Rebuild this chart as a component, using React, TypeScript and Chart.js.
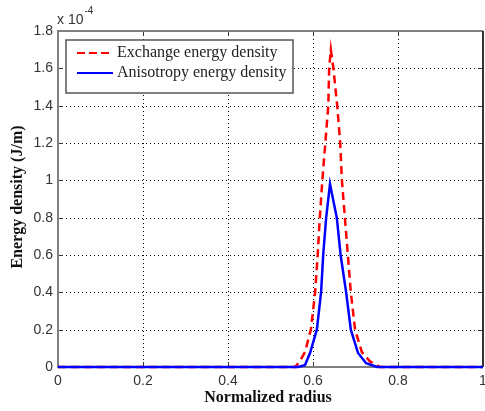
import React, { useEffect, useRef } from "react";
import { Chart, registerables } from "chart.js";

Chart.register(...registerables);

const exchangeX = [0, 0.55, 0.558, 0.569, 0.581, 0.595, 0.605, 0.611, 0.616, 0.622, 0.629, 0.636, 0.638, 0.642, 0.648, 0.657, 0.664, 0.668, 0.675, 0.682, 0.689, 0.699, 0.715, 0.734, 0.758, 1];
const exchangeY = [0, 0, 0, 0.03, 0.08, 0.2, 0.4, 0.6, 0.8, 1.0, 1.2, 1.4, 1.6, 1.7, 1.6, 1.4, 1.2, 1.0, 0.8, 0.6, 0.4, 0.2, 0.08, 0.03, 0, 0];
const anisoX = [0, 0.565, 0.581, 0.593, 0.609, 0.619, 0.624, 0.631, 0.640, 0.656, 0.665, 0.678, 0.689, 0.706, 0.725, 0.751, 1];
const anisoY = [0, 0, 0.01, 0.075, 0.2, 0.4, 0.6, 0.8, 0.98, 0.8, 0.6, 0.4, 0.2, 0.075, 0.02, 0, 0];

const seriesLabels = ["Exchange energy density", "Anisotropy energy density"];
const xTitle = "Normalized radius";
const yTitle = "Energy density (J/m)";
const exponentBase = "x 10";
const exponentPower = "-4";

const SERIF = "'Liberation Serif', 'Times New Roman', serif";
const SANS = "'Liberation Sans', Arial, sans-serif";

const framePlugin = {
  id: "framePlugin",
  beforeDatasetsDraw(chart: any) {
    const { ctx, chartArea } = chart;
    const { left, right, top, bottom } = chartArea;
    const xs = chart.scales.x;
    const ys = chart.scales.y;
    ctx.save();
    ctx.strokeStyle = "#000";
    ctx.lineWidth = 1;
    ctx.setLineDash([1, 3]);
    xs.ticks.forEach((t: any) => {
      const px = Math.round(xs.getPixelForValue(t.value)) + 0.5;
      if (px <= left + 2 || px >= right - 2) return;
      ctx.beginPath();
      ctx.moveTo(px, top);
      ctx.lineTo(px, bottom);
      ctx.stroke();
    });
    ys.ticks.forEach((t: any) => {
      const py = Math.round(ys.getPixelForValue(t.value)) + 0.5;
      if (py <= top + 2 || py >= bottom - 2) return;
      ctx.beginPath();
      ctx.moveTo(left, py);
      ctx.lineTo(right, py);
      ctx.stroke();
    });
    ctx.setLineDash([]);
    ctx.strokeStyle = "#333";
    ctx.lineWidth = 1;
    xs.ticks.forEach((t: any) => {
      const px = Math.round(xs.getPixelForValue(t.value)) + 0.5;
      ctx.beginPath();
      ctx.moveTo(px, bottom);
      ctx.lineTo(px, bottom - 5);
      ctx.moveTo(px, top);
      ctx.lineTo(px, top + 5);
      ctx.stroke();
    });
    ys.ticks.forEach((t: any) => {
      const py = Math.round(ys.getPixelForValue(t.value)) + 0.5;
      ctx.beginPath();
      ctx.moveTo(left, py);
      ctx.lineTo(left + 5, py);
      ctx.moveTo(right, py);
      ctx.lineTo(right - 5, py);
      ctx.stroke();
    });
    ctx.strokeStyle = "#808080";
    ctx.lineWidth = 2;
    ctx.beginPath();
    ctx.moveTo(right, top);
    ctx.lineTo(left, top);
    ctx.lineTo(left, bottom);
    ctx.lineTo(right, bottom);
    ctx.stroke();
    ctx.strokeStyle = "#333";
    ctx.beginPath();
    ctx.moveTo(right, top);
    ctx.lineTo(right, bottom);
    ctx.stroke();
    ctx.restore();
  },
  afterDraw(chart: any) {
    const { ctx } = chart;
    ctx.save();
    ctx.fillStyle = "#111";
    ctx.font = `bold 16px ${SERIF}`;
    ctx.textAlign = "center";
    ctx.textBaseline = "middle";
    ctx.fillText(xTitle, 268, 398);
    ctx.save();
    ctx.translate(18, 197);
    ctx.rotate(-Math.PI / 2);
    ctx.fillText(yTitle, 0, 0);
    ctx.restore();
    ctx.fillStyle = "#333";
    ctx.textAlign = "left";
    ctx.font = `14px ${SANS}`;
    ctx.fillText(exponentBase, 57, 20);
    const w = ctx.measureText(exponentBase).width;
    ctx.font = `10px ${SANS}`;
    ctx.fillText(exponentPower, 57 + w + 1, 11);
    const bx = 66, by = 40, bw = 227, bh = 53;
    ctx.fillStyle = "#fff";
    ctx.fillRect(bx, by, bw, bh);
    ctx.strokeStyle = "#555";
    ctx.lineWidth = 1.5;
    ctx.strokeRect(bx, by, bw, bh);
    const rows = [
      { y: 53, color: "#ff0000", dash: [8, 4], label: seriesLabels[0] },
      { y: 73, color: "#0000ff", dash: [], label: seriesLabels[1] },
    ];
    rows.forEach((r) => {
      ctx.strokeStyle = r.color;
      ctx.lineWidth = 2;
      ctx.setLineDash(r.dash);
      ctx.beginPath();
      ctx.moveTo(77, r.y);
      ctx.lineTo(113, r.y);
      ctx.stroke();
      ctx.setLineDash([]);
      ctx.fillStyle = "#222";
      ctx.font = `16px ${SERIF}`;
      ctx.textAlign = "left";
      ctx.textBaseline = "middle";
      ctx.fillText(r.label, 117, r.y);
    });
    ctx.restore();
  },
};

export default function App() {
  const ref = useRef<HTMLCanvasElement | null>(null);
  useEffect(() => {
    if (!ref.current) return;
    const chart = new Chart(ref.current, {
      type: "line",
      data: {
        datasets: [
          {
            label: seriesLabels[0],
            data: exchangeX.map((x, i) => ({ x, y: exchangeY[i] })),
            borderColor: "#ff0000",
            borderWidth: 2.5,
            borderDash: [8, 5],
            pointRadius: 0,
            tension: 0,
            fill: false,
            order: 1,
            clip: 6,
          },
          {
            label: seriesLabels[1],
            data: anisoX.map((x, i) => ({ x, y: anisoY[i] })),
            borderColor: "#0000ff",
            borderWidth: 2.5,
            pointRadius: 0,
            tension: 0,
            fill: false,
            order: 0,
            clip: 6,
          },
        ],
      },
      options: {
        responsive: false,
        animation: false,
        devicePixelRatio: 1,
        layout: { padding: { top: 31, right: 2, left: 0, bottom: 0 } },
        plugins: { legend: { display: false }, tooltip: { enabled: false } },
        scales: {
          x: {
            type: "linear",
            min: 0,
            max: 1,
            grid: { display: false, drawTicks: false },
            border: { display: false },
            ticks: {
              stepSize: 0.2,
              padding: 6,
              color: "#333",
              font: { family: SANS, size: 14 },
              maxRotation: 0,
              callback: (v: any) => String(Math.round(Number(v) * 10) / 10),
            },
            afterFit: (s: any) => {
              s.height = 44;
              s.paddingLeft = 0;
              s.paddingRight = 0;
            },
          },
          y: {
            type: "linear",
            min: 0,
            max: 1.8,
            grid: { display: false, drawTicks: false },
            border: { display: false },
            ticks: {
              stepSize: 0.2,
              padding: 5,
              color: "#333",
              font: { family: SANS, size: 14 },
              callback: (v: any) => String(Math.round(Number(v) * 10) / 10),
            },
            afterFit: (s: any) => {
              s.width = 58;
              s.paddingTop = 0;
              s.paddingBottom = 0;
            },
          },
        },
      },
      plugins: [framePlugin],
    });
    return () => chart.destroy();
  }, []);
  return (
    <div style={{ position: "absolute", left: 0, top: 0, width: 485, height: 411, background: "#fff" }}>
      <canvas ref={ref} width={485} height={411} style={{ display: "block" }} />
    </div>
  );
}
